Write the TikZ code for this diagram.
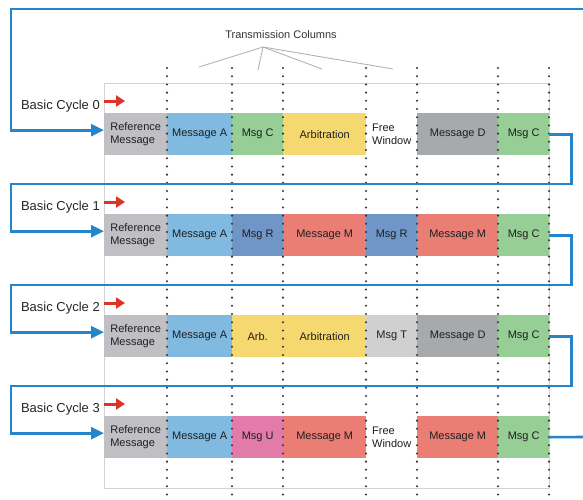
\documentclass[tikz,border=0pt]{standalone}
\usepackage{fontspec}
\setmainfont{Liberation Sans}
\usetikzlibrary{arrows.meta}
\definecolor{cref}{RGB}{192,192,196}
\definecolor{cA}{RGB}{128,186,224}
\definecolor{cC}{RGB}{150,206,150}
\definecolor{cArb}{RGB}{246,216,112}
\definecolor{cD}{RGB}{166,170,172}
\definecolor{cR}{RGB}{112,150,200}
\definecolor{cM}{RGB}{234,126,116}
\definecolor{cT}{RGB}{208,208,208}
\definecolor{cU}{RGB}{226,122,170}
\definecolor{cblue}{RGB}{36,132,204}
\definecolor{cred}{RGB}{222,52,40}
\definecolor{cframe}{RGB}{210,210,210}
\begin{document}
\begin{tikzpicture}[x=1pt,y=-1pt,
  cell/.style={draw=none, minimum height=42pt, inner sep=0pt, anchor=north west,
    align=left, font=\fontsize{11}{13}\selectfont, text=black!88},
  w1/.style={minimum width=63pt}, w2/.style={minimum width=65pt},
  w3/.style={minimum width=51pt}, w4/.style={minimum width=83pt},
  w5/.style={minimum width=51pt}, w6/.style={minimum width=81pt},
  w7/.style={minimum width=51pt},
  lab/.style={anchor=east, inner sep=0pt, font=\fontsize{13}{15}\selectfont, text=black!85},
  conn/.style={draw=cblue, line width=2.6pt},
  tip/.style={-{Triangle[length=13pt,width=12pt]}},
  redarr/.style={draw=cred, line width=3pt, -{Triangle[length=9pt,width=11pt]}},
  dotline/.style={draw=black!80, line width=2.3pt, dash pattern=on 0pt off 8.2pt, line cap=round},
  frame/.style={draw=cframe, line width=1pt},
  pointer/.style={draw=black!30, line width=0.9pt}]
\useasboundingbox (0,0) rectangle (583,499);

% frame
\draw[frame] (104,83) rectangle (549,488);

% header
\node[font=\fontsize{11}{13}\selectfont, text=black!80, inner sep=1pt] (tc) at (281,35) {Transmission Columns};
\coordinate (tcp) at (263,47);
\coordinate (p1) at (199,67);
\coordinate (p2) at (258,70);
\coordinate (p3) at (322,69);
\coordinate (p4) at (393,69);
\foreach \p in {p1,p2,p3,p4} \draw[pointer] (tcp) -- (\p);

% cycle 0
\node[cell,w1,fill=cref] (r0) at (104,113) {Reference\\Message};
\node[cell,w2,fill=cA]   (a0) at (167,113) {Message A};
\node[cell,w3,fill=cC]   (x0) at (232,113) {Msg C};
\node[cell,w4,fill=cArb] (y0) at (283,113) {Arbitration};
\node[cell,w5,fill=white](z0) at (366,113) {Free\\Window};
\node[cell,w6,fill=cD]   (v0) at (417,113) {Message D};
\node[cell,w7,fill=cC]   (m0) at (498,113) {Msg C};

% cycle 1
\node[cell,w1,fill=cref] (r1) at (104,214) {Reference\\Message};
\node[cell,w2,fill=cA]   (a1) at (167,214) {Message A};
\node[cell,w3,fill=cR]   (x1) at (232,214) {Msg R};
\node[cell,w4,fill=cM]   (y1) at (283,214) {Message M};
\node[cell,w5,fill=cR]   (z1) at (366,214) {Msg R};
\node[cell,w6,fill=cM]   (v1) at (417,214) {Message M};
\node[cell,w7,fill=cC]   (m1) at (498,214) {Msg C};

% cycle 2
\node[cell,w1,fill=cref] (r2) at (104,315) {Reference\\Message};
\node[cell,w2,fill=cA]   (a2) at (167,315) {Message A};
\node[cell,w3,fill=cArb] (x2) at (232,315) {Arb.};
\node[cell,w4,fill=cArb] (y2) at (283,315) {Arbitration};
\node[cell,w5,fill=cT]   (z2) at (366,315) {Msg T};
\node[cell,w6,fill=cD]   (v2) at (417,315) {Message D};
\node[cell,w7,fill=cC]   (m2) at (498,315) {Msg C};

% cycle 3
\node[cell,w1,fill=cref] (r3) at (104,416) {Reference\\Message};
\node[cell,w2,fill=cA]   (a3) at (167,416) {Message A};
\node[cell,w3,fill=cU]   (x3) at (232,416) {Msg U};
\node[cell,w4,fill=cM]   (y3) at (283,416) {Message M};
\node[cell,w5,fill=white](z3) at (366,416) {Free\\Window};
\node[cell,w6,fill=cM]   (v3) at (417,416) {Message M};
\node[cell,w7,fill=cC]   (m3) at (498,416) {Msg C};

% dotted column lines
\foreach \x in {167,232,283,366,417,498,549}
  \draw[dotline] (\x,68) -- (\x,499);

% labels and red arrows
\foreach \i/\y in {0/113,1/214,2/315,3/416}{
  \node[lab] (bc\i) at (100,\y-7) {Basic Cycle \i};
  \draw[redarr] ([yshift=12pt]r\i.north west) -- ++(21,0);
}

% blue connectors
\coordinate (top) at (583,9);
\coordinate (exit) at (583,437);
\draw[conn,tip] (top) -- (11,9) |- ([yshift=4pt]r0.west);
\draw[conn,tip] (m0.east) -- ++(22,0) |- (11,184) |- ([yshift=4pt]r1.west);
\draw[conn,tip] (m1.east) -- ++(22,0) |- (11,285) |- ([yshift=4pt]r2.west);
\draw[conn,tip] (m2.east) -- ++(22,0) |- (11,386) |- ([yshift=4pt]r3.west);
\draw[conn] (m3.east) -- (exit);
\end{tikzpicture}
\end{document}
